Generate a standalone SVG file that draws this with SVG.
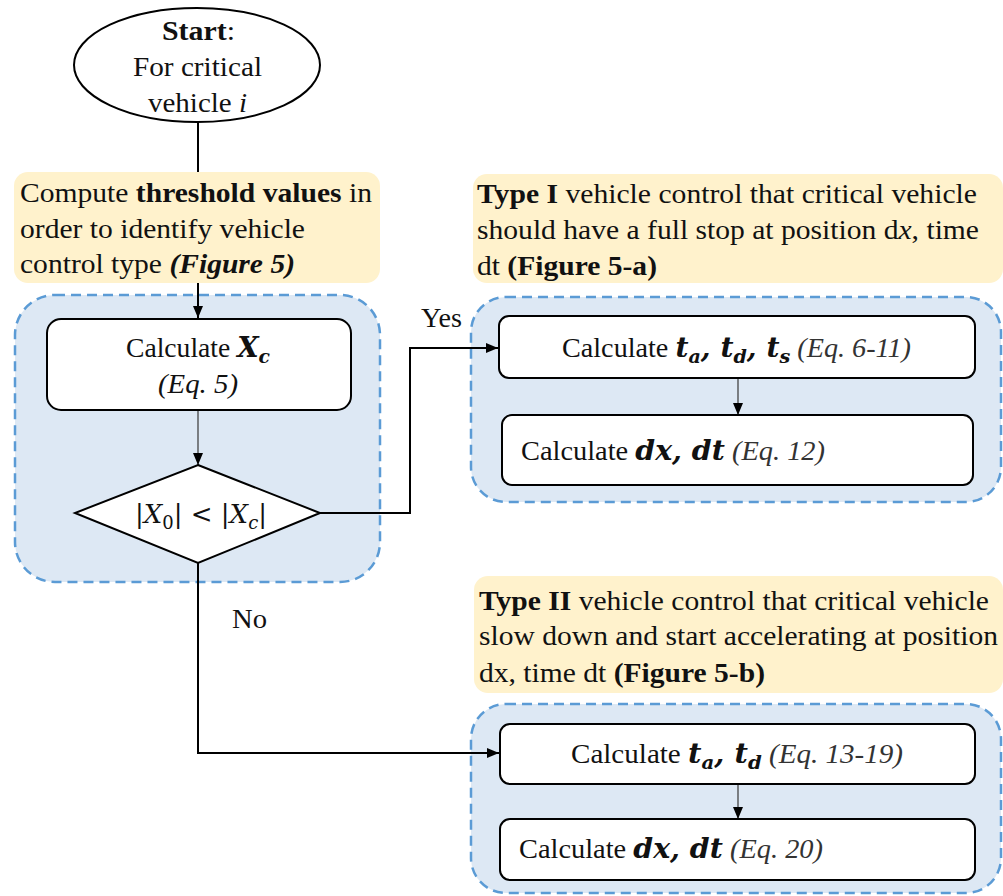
<svg xmlns="http://www.w3.org/2000/svg" width="1003" height="896" viewBox="0 0 1003 896">
<defs>
<style>
.t{font-family:"Liberation Serif","Times New Roman",serif;font-size:28px;fill:#111}
.m{font-family:"DejaVu Serif","Liberation Serif",serif;font-size:26px;fill:#111;font-style:italic}
.b{font-weight:bold}
.i{font-style:italic}
.bi{font-weight:bold;font-style:italic;font-family:"DejaVu Serif","Liberation Serif",serif}
.note{fill:#fff2cc;stroke:none}
.grp{fill:#dde8f4;stroke:#5b9bd5;stroke-width:2.5;stroke-dasharray:10 6}
.box{fill:#fff;stroke:#000;stroke-width:2}
.line{fill:none;stroke:#000;stroke-width:2}
.thin{fill:none;stroke:#444;stroke-width:1.3}
</style>
<marker id="ah" markerWidth="12" markerHeight="12" refX="12" refY="6" orient="auto" markerUnits="userSpaceOnUse">
<path d="M0,1 L12,6 L0,11 Z" fill="#000"/>
</marker>
</defs>
<rect width="1003" height="896" fill="#fff"/>

<g id="groups">
<rect class="grp" x="15" y="295" width="365" height="287" rx="40"/>
<rect class="grp" x="471" y="297" width="530" height="205" rx="35"/>
<rect class="grp" x="471" y="704" width="530" height="189" rx="35"/>
</g>

<g id="connectors">
<line class="line" x1="198" y1="122" x2="198" y2="172"/>
<line class="line" x1="198" y1="283" x2="198" y2="318" marker-end="url(#ah)"/>
<line class="thin" x1="198" y1="410" x2="198" y2="465" marker-end="url(#ah)"/>
<polyline class="line" points="320,513 410,513 410,348 498,348" marker-end="url(#ah)"/>
<polyline class="line" points="198,563 198,753 499,753" marker-end="url(#ah)"/>
<line class="thin" x1="738" y1="378" x2="738" y2="415" marker-end="url(#ah)"/>
<line class="thin" x1="738" y1="784" x2="738" y2="819" marker-end="url(#ah)"/>
<text class="t" x="421" y="327" textLength="41" lengthAdjust="spacingAndGlyphs">Yes</text>
<text class="t" x="232" y="628" textLength="35" lengthAdjust="spacingAndGlyphs">No</text>
</g>

<g id="start">
<ellipse cx="197" cy="65" rx="123" ry="57" fill="#fff" stroke="#000" stroke-width="2"/>
<text class="t" x="162" y="40" textLength="73" lengthAdjust="spacingAndGlyphs"><tspan class="b">Start</tspan>:</text>
<text class="t" x="133" y="76" textLength="129" lengthAdjust="spacingAndGlyphs">For critical</text>
<text class="t" x="148" y="112" textLength="99" lengthAdjust="spacingAndGlyphs">vehicle <tspan class="i">i</tspan></text>
</g>

<g id="threshold">
<rect class="note" x="14" y="172" width="366" height="111" rx="14"/>
<text class="t" x="20" y="202" textLength="352" lengthAdjust="spacingAndGlyphs">Compute <tspan class="b">threshold values</tspan> in</text>
<text class="t" x="20" y="238" textLength="285" lengthAdjust="spacingAndGlyphs">order to identify vehicle</text>
<text class="t" x="20" y="273" textLength="275" lengthAdjust="spacingAndGlyphs">control type <tspan class="b i">(Figure 5)</tspan></text>
</g>

<g id="calc-xc">
<rect class="box" x="47" y="319" width="304" height="91" rx="14"/>
<text class="t" x="126" y="357" textLength="144" lengthAdjust="spacingAndGlyphs">Calculate <tspan class="bi">X</tspan><tspan class="bi" font-size="19" dy="6">c</tspan></text>
<text class="t i" x="158" y="393" textLength="80" lengthAdjust="spacingAndGlyphs" fill="#333">(Eq. 5)</text>
</g>

<g id="decision">
<polygon points="198,465 320,513 198,563 75,513" fill="#fff" stroke="#000" stroke-width="2"/>
<text class="m" x="135" y="523" textLength="132" lengthAdjust="spacingAndGlyphs">|<tspan>X</tspan><tspan font-style="normal" font-size="18" dy="6">0</tspan><tspan dy="-6">| </tspan><tspan font-style="normal">&lt;</tspan> |X<tspan font-size="18" dy="6">c</tspan><tspan dy="-6">|</tspan></text>
</g>

<g id="type1-note">
<rect class="note" x="473" y="174" width="530" height="109" rx="14"/>
<text class="t" x="477" y="203" textLength="500" lengthAdjust="spacingAndGlyphs"><tspan class="b">Type I</tspan> vehicle control that critical vehicle</text>
<text class="t" x="477" y="239" textLength="502" lengthAdjust="spacingAndGlyphs">should have a full stop at position d<tspan class="i">x</tspan>, time</text>
<text class="t" x="477" y="275" textLength="180" lengthAdjust="spacingAndGlyphs">dt <tspan class="b">(Figure 5-a)</tspan></text>
</g>

<g id="type1-calc-t">
<rect class="box" x="499" y="316" width="476" height="62" rx="10"/>
<text class="t" x="562" y="357" textLength="349" lengthAdjust="spacingAndGlyphs">Calculate <tspan class="bi">t</tspan><tspan class="bi" font-size="19" dy="6">a</tspan><tspan class="bi" dy="-6">, t</tspan><tspan class="bi" font-size="19" dy="6">d</tspan><tspan class="bi" dy="-6">, t</tspan><tspan class="bi" font-size="19" dy="6">s</tspan><tspan class="i" dy="-6" fill="#333"> (Eq. 6-11)</tspan></text>
</g>

<g id="type1-calc-dx">
<rect class="box" x="502" y="415" width="471" height="70" rx="10"/>
<text class="t" x="521" y="460" textLength="304" lengthAdjust="spacingAndGlyphs">Calculate <tspan class="bi">dx, dt</tspan><tspan class="i" fill="#333"> (Eq. 12)</tspan></text>
</g>

<g id="type2-note">
<rect class="note" x="474" y="576" width="529" height="117" rx="14"/>
<text class="t" x="479" y="610" textLength="510" lengthAdjust="spacingAndGlyphs"><tspan class="b">Type II</tspan> vehicle control that critical vehicle</text>
<text class="t" x="479" y="645" textLength="519" lengthAdjust="spacingAndGlyphs">slow down and start accelerating at position</text>
<text class="t" x="479" y="682" textLength="286" lengthAdjust="spacingAndGlyphs">dx, time dt <tspan class="b">(Figure 5-b)</tspan></text>
</g>

<g id="type2-calc-t">
<rect class="box" x="500" y="724" width="475" height="60" rx="10"/>
<text class="t" x="571" y="763" textLength="332" lengthAdjust="spacingAndGlyphs">Calculate <tspan class="bi">t</tspan><tspan class="bi" font-size="19" dy="6">a</tspan><tspan class="bi" dy="-6">, t</tspan><tspan class="bi" font-size="19" dy="6">d</tspan><tspan class="i" dy="-6" fill="#333"> (Eq. 13-19)</tspan></text>
</g>

<g id="type2-calc-dx">
<rect class="box" x="500" y="819" width="475" height="61" rx="10"/>
<text class="t" x="519" y="858" textLength="304" lengthAdjust="spacingAndGlyphs">Calculate <tspan class="bi">dx, dt</tspan><tspan class="i" fill="#333"> (Eq. 20)</tspan></text>
</g>
</svg>
